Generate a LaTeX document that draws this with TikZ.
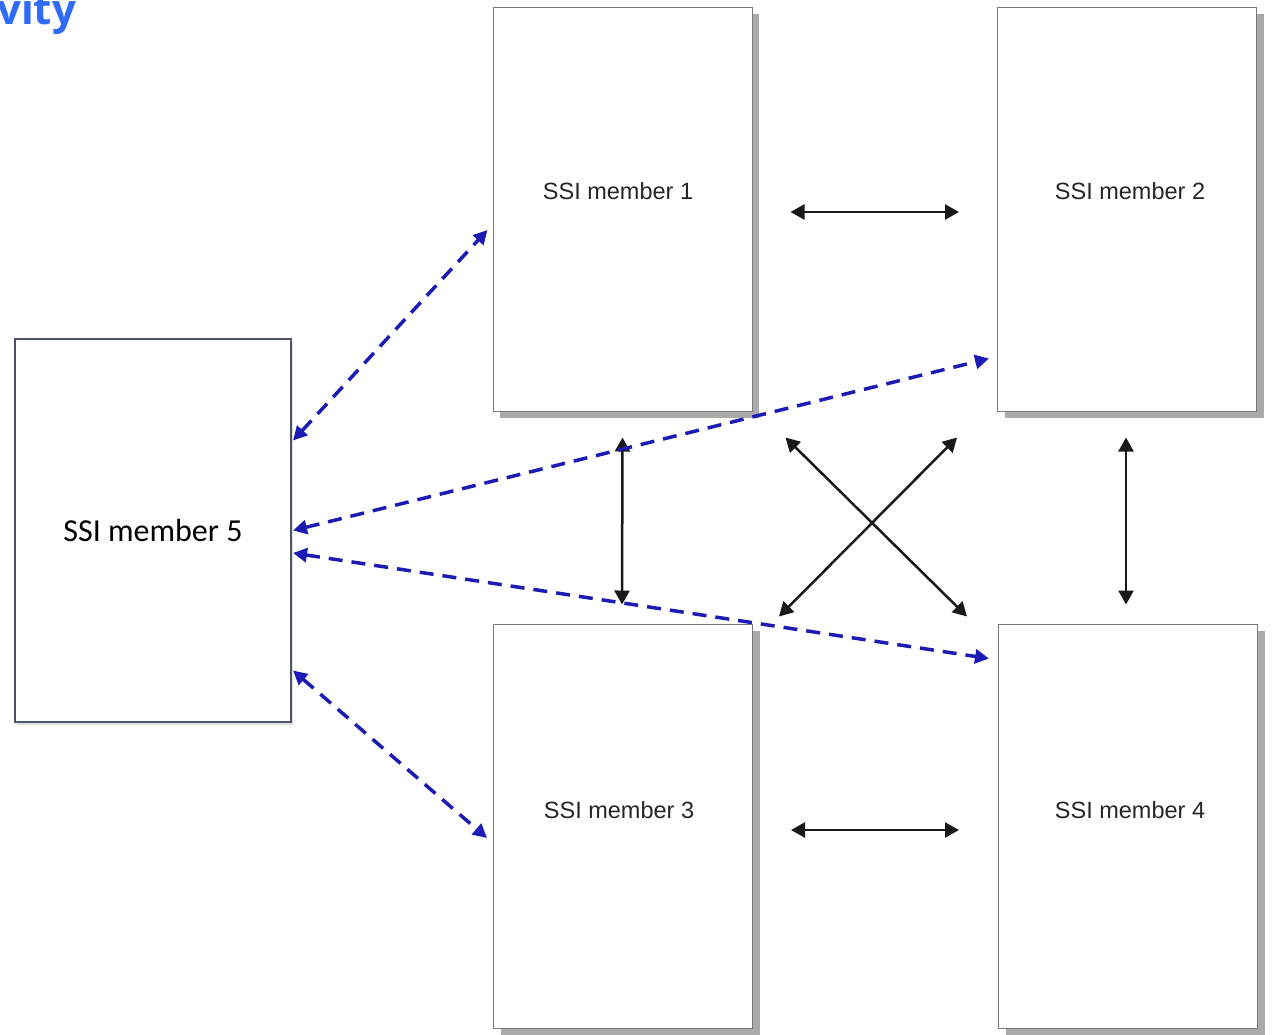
\documentclass[tikz,border=0pt]{standalone}
\usepackage{fontspec}
\setmainfont{Liberation Sans}
\newfontfamily\calfont{Carlito}
\newfontfamily\titlefont{Open Sans}
\usetikzlibrary{arrows.meta,shadows,calc}
\definecolor{titleblue}{HTML}{2F6BF7}
\definecolor{dashblue}{HTML}{1C1CB4}
\definecolor{boxgray}{HTML}{7A7A7A}
\definecolor{shadgray}{HTML}{AAAAAA}
\definecolor{fivegray}{HTML}{4D5466}
\tikzset{
  ssibox/.style={draw=boxgray, line width=1pt, fill=white, rectangle,
    minimum width=259pt, minimum height=404pt, inner sep=0pt,
    drop shadow={shadow xshift=7pt, shadow yshift=-7pt, fill=shadgray, opacity=1}},
  fivebox/.style={draw=fivegray, line width=2pt, fill=white, rectangle,
    minimum width=276pt, minimum height=383pt, inner sep=0pt,
    drop shadow={shadow xshift=2pt, shadow yshift=-3pt, fill=black, opacity=0.12}},
  lbl/.style={font=\fontsize{23.5}{28}\selectfont, text=black!85, inner sep=0pt},
  blk/.style={draw=black!90, line width=2.5pt,
    {Triangle[length=14pt,width=15pt]}-{Triangle[length=14pt,width=15pt]}},
  blu/.style={draw=dashblue, line width=3.5pt, dash pattern=on 14pt off 9pt,
    {Triangle[length=14pt,width=14pt]}-{Triangle[length=14pt,width=14pt]}},
}
\begin{document}
\begin{tikzpicture}[x=1pt,y=-1pt]
\useasboundingbox (0,0) rectangle (1276,1034);
\fill[white] (0,0) rectangle (1276,1034);

\node[anchor=base west, text=titleblue, inner sep=0pt,
  font=\titlefont\bfseries\fontsize{42}{50}\selectfont] (title) at (-3,24) {vity};

\node[ssibox] (b1) at (622.5,209) {};
\node[ssibox] (b2) at (1127,209) {};
\node[ssibox] (b3) at (623,826) {};
\node[ssibox] (b4) at (1128,826) {};
\node[fivebox, font=\calfont\fontsize{32}{38}\selectfont] (b5) at (153,530.5) {SSI member 5};

\node[lbl] (t1) at (618,191) {SSI member 1};
\node[lbl] (t2) at (1130,191) {SSI member 2};
\node[lbl] (t3) at (619,810) {SSI member 3};
\node[lbl] (t4) at (1130,810) {SSI member 4};

% black connectors
\draw[blk] ([shift={(38,3)}]b1.east) -- ([shift={(-38,3)}]b2.west);
\draw[blk] ([shift={(38,4)}]b3.east) -- ([shift={(-39,4)}]b4.west);
\draw[blk] ([shift={(0,26)}]b1.south) -- ([shift={(-1,-19)}]b3.north);
\draw[blk] ([shift={(-1,26)}]b2.south) -- ([shift={(-2,-19)}]b4.north);
\draw[blk] ([shift={(33,26)}]b1.south east) -- ([shift={(-31,-7)}]b4.north west);
\draw[blk] ([shift={(-40,26)}]b2.south west) -- ([shift={(26,-7)}]b3.north east);

% blue dashed connectors
\draw[blu] ([shift={(1,-90)}]b5.east) -- ([shift={(-5,21)}]b1.west);
\draw[blu] ([shift={(1,0)}]b5.east) -- ([shift={(-8,-53)}]b2.south west);
\draw[blu] ([shift={(1,22.5)}]b5.east) -- ([shift={(-9,35)}]b4.north west);
\draw[blu] ([shift={(1,140)}]b5.east) -- ([shift={(-6,12)}]b3.west);
\end{tikzpicture}
\end{document}
